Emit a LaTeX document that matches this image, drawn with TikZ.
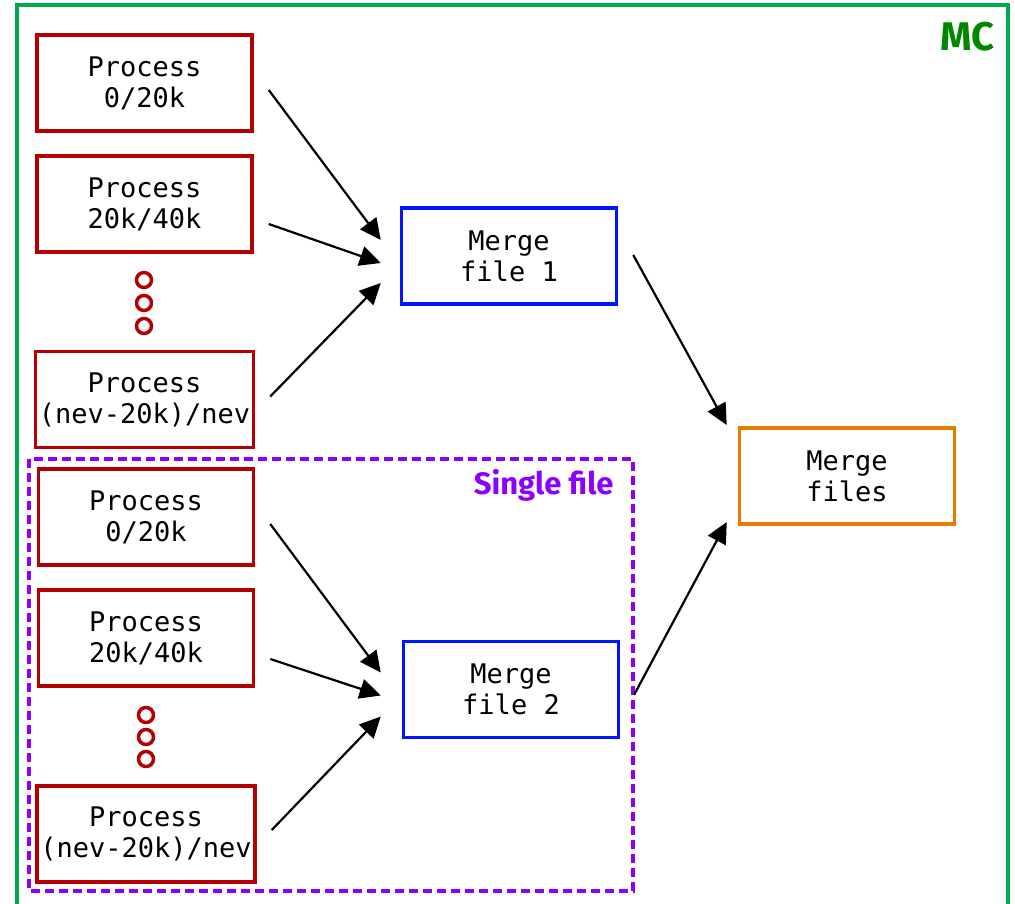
\documentclass[tikz,border=0pt]{standalone}
\usepackage{fontspec}
\setmonofont{DejaVu Sans Mono}
\setsansfont{Fira Sans}
\usetikzlibrary{arrows.meta, calc}
\definecolor{procred}{RGB}{180,0,0}
\definecolor{mergeblue}{RGB}{0,20,255}
\definecolor{mergeorange}{RGB}{232,122,0}
\definecolor{mcgreen}{RGB}{0,168,80}
\definecolor{mctext}{RGB}{0,135,0}
\definecolor{singlepurple}{RGB}{140,0,255}

\begin{document}
\begin{tikzpicture}[x=1pt, y=-1pt,
    box/.style={draw, line width=3.5pt, minimum width=215pt, minimum height=96pt,
      align=center, font=\fontsize{27}{31}\selectfont\ttfamily},
    proc/.style={box, draw=procred},
    merge/.style={box, draw=mergeblue},
    dot/.style={circle, draw=procred, line width=3.5pt, minimum size=15pt, inner sep=0pt},
    link/.style={-{Triangle[length=21pt, width=20pt]}, line width=2.2pt}]
    \useasboundingbox (0,0) rectangle (1015,904);
    \draw[mcgreen, line width=3.5pt] (17,5) rectangle (1008,930);
    \node[text=mctext, font=\fontsize{40}{40}\selectfont\sffamily\bfseries, anchor=east] (mc) at (998,37) {MC};
    \draw[singlepurple, line width=3.5pt, dash pattern=on 9pt off 5pt] (29,459) rectangle (633,891);
    \node[text=singlepurple, font=\fontsize{31}{31}\selectfont\sffamily\bfseries, anchor=east] (sf) at (617,485) {Single file};

    \node[proc] (a) at (144.5,83) {Process\\0/20k};
    \node[proc] (b) at (144.5,204) {Process\\20k/40k};
    \node[dot] (d1) at (144,280) {};
    \node[dot] (d2) at (144,303) {};
    \node[dot] (d3) at (144,326) {};
    \node[proc] (c) at (144.5,399.5) {Process\\(nev-20k)/nev};
    \node[merge] (m) at (509,256) {Merge\\file 1};

    \node[proc] (e) at (146,517) {Process\\0/20k};
    \node[proc] (f) at (146,638) {Process\\20k/40k};
    \node[dot] (d4) at (146,715) {};
    \node[dot] (d5) at (146,737) {};
    \node[dot] (d6) at (146,759) {};
    \node[proc] (g) at (146,834) {Process\\(nev-20k)/nev};
    \node[merge] (n) at (511,689.5) {Merge\\file 2};

    \node[box, draw=mergeorange] (z) at (847,476) {Merge\\files};

    \draw[link] ([shift={(15,7)}]a.east) -- ([shift={(-19,-16)}]m.west);
    \draw[link] ([shift={(15,20)}]b.east) -- ([shift={(-19,7)}]m.west);
    \draw[link] ([shift={(15,-3)}]c.east) -- ([shift={(-19,27)}]m.west);
    \draw[link] ([shift={(15,7)}]e.east) -- ([shift={(-21,-17)}]n.west);
    \draw[link] ([shift={(15,21)}]f.east) -- ([shift={(-21,6)}]n.west);
    \draw[link] ([shift={(15,-4)}]g.east) -- ([shift={(-21,27)}]n.west);
    \draw[link] ([shift={(15,-1)}]m.east) -- ([shift={(-11,-51)}]z.west);
    \draw[link] ([shift={(14,5)}]n.east) -- ([shift={(-11,46)}]z.west);
\end{tikzpicture}
\end{document}
